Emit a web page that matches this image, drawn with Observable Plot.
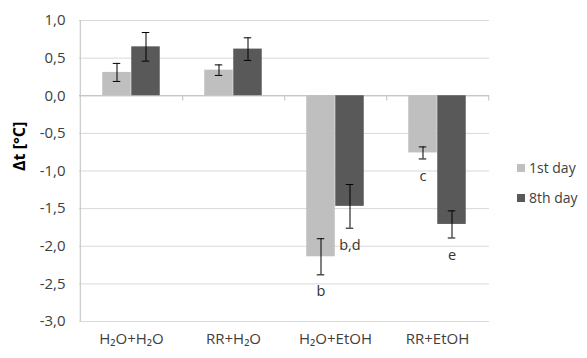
<!DOCTYPE html>
<html>
<head>
<meta charset="utf-8">
<script src="https://cdn.jsdelivr.net/npm/d3@7"></script>
<script src="https://cdn.jsdelivr.net/npm/@observablehq/plot@0.6"></script>
<style>
  html, body { margin: 0; padding: 0; background: #fff; }
  #wrap { position: relative; width: 587px; height: 358px; font-family: "Open Sans", sans-serif; }
  .lg { position: absolute; left: 517px; display: flex; align-items: center; font-size: 14px; color: #404040; white-space: nowrap; }
  .lg span.sw { display: inline-block; width: 8px; height: 8px; margin-right: 4px; }
</style>
</head>
<body>
<div id="wrap"></div>
<script>
const categories = ["H₂O+H₂O", "RR+H₂O", "H₂O+EtOH", "RR+EtOH"];
const seriesNames = ["1st day", "8th day"];
const seriesColors = ["#bfbfbf", "#595959"];
const day1 = [0.31, 0.34, -2.14, -0.76];
const day1Err = [0.12, 0.07, 0.24, 0.08];
const day8 = [0.65, 0.62, -1.47, -1.71];
const day8Err = [0.19, 0.15, 0.29, 0.18];
const labels1 = ["", "", "b", "c"];
const labels8 = ["", "", "b,d", "e"];
const yTicks = [1, 0.5, 0, -0.5, -1, -1.5, -2, -2.5, -3];

const W = 587, H = 358, ML = 79, MR = 98, MT = 20, MB = 37;
const bw = (W - ML - MR) / categories.length;
const barW = 29, capW = 8;
const inset = (bw - barW) / 2;
const capInset = (bw - capW) / 2;

const rows1 = categories.map((c, i) => ({cat: c, v: day1[i], lo: day1[i] - day1Err[i], hi: day1[i] + day1Err[i], lab: labels1[i]}));
const rows8 = categories.map((c, i) => ({cat: c, v: day8[i], lo: day8[i] - day8Err[i], hi: day8[i] + day8Err[i], lab: labels8[i]}));
const fmt = d => d.toFixed(1).replace(".", ",");

function seriesMarks(rows, color, dx) {
  return [
    Plot.barY(rows, {x: "cat", y: "v", fill: color, dx, insetLeft: inset, insetRight: inset}),
    Plot.ruleX(rows, {x: "cat", y1: "lo", y2: "hi", dx, stroke: "#000", strokeWidth: 1}),
    Plot.tickY(rows, {x: "cat", y: "hi", dx, stroke: "#000", strokeWidth: 1, insetLeft: capInset, insetRight: capInset}),
    Plot.tickY(rows, {x: "cat", y: "lo", dx, stroke: "#000", strokeWidth: 1, insetLeft: capInset, insetRight: capInset}),
    Plot.text(rows.filter(d => d.lab), {x: "cat", y: "lo", text: "lab", dx, dy: 17, fontSize: 14.5, fill: "#333"})
  ];
}

const chart = Plot.plot({
  width: W, height: H,
  marginLeft: ML, marginRight: MR, marginTop: MT, marginBottom: MB,
  style: {fontFamily: "Open Sans, sans-serif", fontSize: "15px", color: "#404040", background: "#fff"},
  x: {domain: categories, padding: 0},
  y: {domain: [-3, 1]},
  marks: [
    Plot.gridY(yTicks, {stroke: "#d9d9d9", strokeOpacity: 1}),
    Plot.ruleX([categories[0]], {dx: -bw / 2, y1: -3, y2: 1, stroke: "#bfbfbf"}),
    Plot.ruleY([0], {stroke: "#bfbfbf"}),
    Plot.ruleX(categories, {x: d => d, dx: bw / 2, y1: 0, y2: -0.07, stroke: "#bfbfbf"}),
    ...seriesMarks(rows1, seriesColors[0], -barW / 2),
    ...seriesMarks(rows8, seriesColors[1], barW / 2),
    Plot.axisY(yTicks, {tickSize: 0, tickPadding: 14, tickFormat: fmt, fontSize: 15, label: null}),
    Plot.axisX({tickSize: 0, tickPadding: 12, fontSize: 15, label: null}),
    Plot.text(["Δt [°C]"], {frameAnchor: "left", dx: -60, rotate: -90, fontWeight: "bold", fontSize: 16, fill: "#000"})
  ]
});

const wrap = document.getElementById("wrap");
wrap.appendChild(chart);
const tops = [158, 188];
seriesNames.forEach((n, i) => {
  const d = document.createElement("div");
  d.className = "lg";
  d.style.top = tops[i] + "px";
  d.innerHTML = `<span class="sw" style="background:${seriesColors[i]}"></span><span>${n}</span>`;
  wrap.appendChild(d);
});
</script>
</body>
</html>
